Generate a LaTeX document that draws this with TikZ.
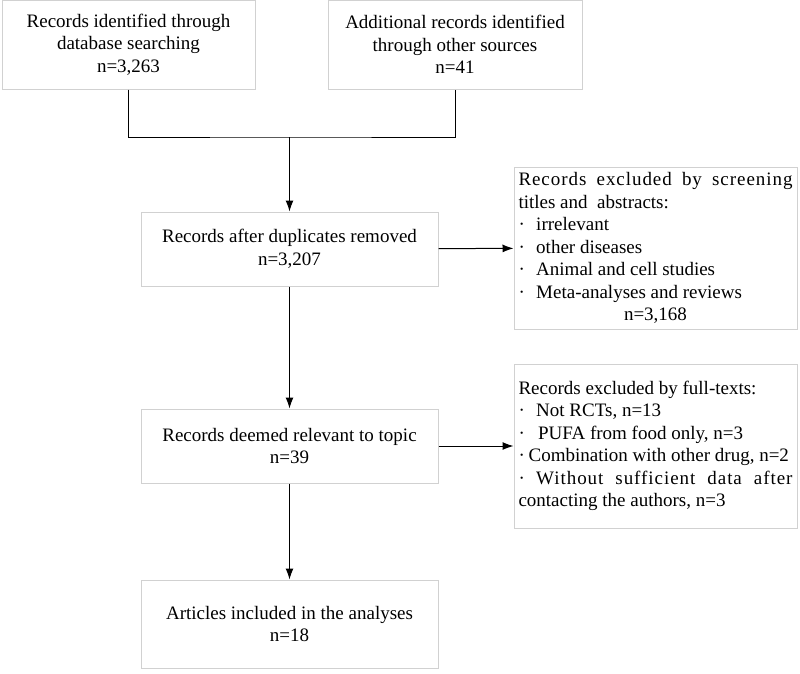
\documentclass[tikz,border=0pt]{standalone}
\usepackage{fontspec}
\setmainfont{Liberation Serif}
\usetikzlibrary{arrows.meta}

\begin{document}
\begin{tikzpicture}[x=1pt, y=-1pt, line width=1pt,
        font=\fontsize{19}{22.5}\selectfont,
        box/.style = {draw=black!18, rectangle, align=center, inner sep=0pt},
        excl/.style = {draw=black!18, rectangle, align=justify, text width=274pt, inner sep=4.5pt},
        arr/.style = {-{Latex[length=11pt, width=8pt]}}]
        \useasboundingbox (0,0) rectangle (800,673);
        \node[box, minimum width=253pt, minimum height=89pt] (ident) at (128.5,44.5)
            {Records identified through\\database searching\\n=3,263};
        \node[box, minimum width=254pt, minimum height=89pt] (other) at (455,44.5)
            {Additional records identified\\through other sources\\n=41};
        \node[box, minimum width=297pt, minimum height=74pt] (dupl) at (289.5,249)
            {Records after duplicates removed\\n=3,207};
        \node[box, minimum width=297pt, minimum height=74pt] (relev) at (289.5,446)
            {Records deemed relevant to topic\\n=39};
        \node[box, minimum width=297pt, minimum height=88pt] (incl) at (289.5,624)
            {Articles included in the analyses\\n=18};
        \node[excl, minimum height=162pt] (scrn) at (655.5,248)
            {{\addfontfeatures{LetterSpace=5}Records excluded by screening}\linebreak titles and\ \ abstracts:\\
             ·\hspace{0.6em}irrelevant\\
             ·\hspace{0.6em}other diseases\\
             ·\hspace{0.6em}Animal and cell studies\\
             ·\hspace{0.6em}Meta-analyses and reviews\\
             \makebox[\linewidth]{n=3,168}};
        \node[excl, minimum height=164pt] (full) at (655.5,446)
            {Records excluded by full-texts:\\
             ·\hspace{0.6em}Not RCTs, n=13\\
             ·\hspace{0.7em}PUFA from food only, n=3\\
             ·\hspace{0.2em}Combination with other drug, n=2\\
             ·\hspace{0.6em}{\addfontfeatures{LetterSpace=5}Without sufficient data after}\linebreak
             contacting the authors, n=3};
        \coordinate (join) at (289.5,137);
        %% Arrows
        \draw (ident.south) |- (join) -| (other.south);
        \draw[arr] (join) -- (dupl);
        \draw[arr] (dupl) -- (relev);
        \draw[arr] (relev) -- (incl);
        \draw[arr] (dupl) -- (scrn);
        \draw[arr] (relev) -- (full);
    \end{tikzpicture}
\end{document}
